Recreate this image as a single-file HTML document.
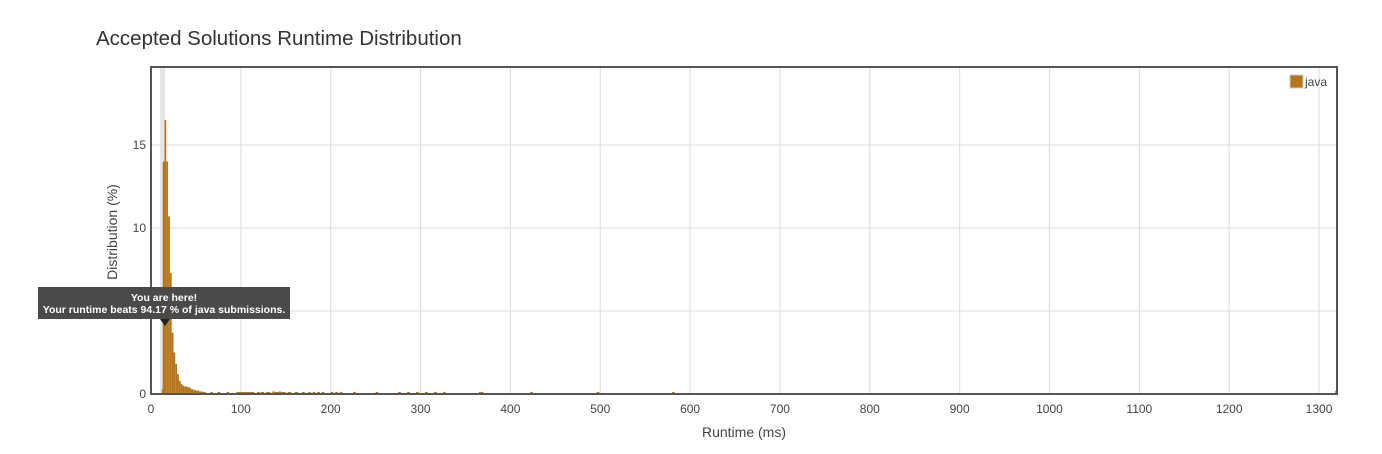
<!DOCTYPE html>
<html><head><meta charset="utf-8"><style>
body{margin:0;background:#fff;font-family:"Liberation Sans",sans-serif;}
</style></head><body>
<svg width="1382" height="449" xmlns="http://www.w3.org/2000/svg" font-family="Liberation Sans, sans-serif">
<text x="96" y="45" font-size="20.5" fill="#333">Accepted Solutions Runtime Distribution</text>
<g id="grid"></g>
<rect x="160" y="67" width="5" height="327" fill="#e6e6e6"/>
<g id="bars"></g>
<rect x="151" y="67" width="1186" height="327" fill="none" stroke="#555" stroke-width="2"/>
<g id="ticks"></g>
<text x="744" y="437" font-size="14" fill="#444" text-anchor="middle">Runtime (ms)</text>
<text x="0" y="0" font-size="14" fill="#444" text-anchor="middle" transform="translate(117,232) rotate(-90)">Distribution (%)</text>
<g>
<rect x="1290" y="75" width="13" height="13" fill="#b5761a" stroke="#ccc"/>
<text x="1305" y="86" font-size="12" fill="#444">java</text>
</g>
<g>
<rect x="38" y="287" width="252" height="32" fill="#4a4a4a"/>
<path d="M160 319 L165 326 L170 319 Z" fill="#222"/>
<text x="164" y="301" font-size="10.5" fill="#fff" font-weight="bold" text-anchor="middle">You are here!</text>
<text x="164" y="313" font-size="10.5" fill="#fff" font-weight="bold" text-anchor="middle">Your runtime beats 94.17 % of java submissions.</text>
</g>
</svg>
<script>
const xTicks=[0,100,200,300,400,500,600,700,800,900,1000,1100,1200,1300];
const yTicks=[0,5,10,15];
const binStarts=[12,13,15,17,19,21,23,25,27,29,31,33,35,37,39,41,44,47,50,54,58,66,74,84,95,100,105,110,118,122,128,135,138,142,145,152,160,168,175,180,185,190,200,205,210,225,250,275,285,295,305,315,325,365,422,496,580,1318];
const binValues=[0.3,14,16.5,14,10.7,7.3,3.7,2.5,1.8,1.2,0.8,0.6,0.5,0.45,0.45,0.4,0.3,0.25,0.2,0.15,0.12,0.1,0.1,0.1,0.12,0.12,0.12,0.12,0.1,0.1,0.1,0.15,0.12,0.15,0.1,0.1,0.08,0.08,0.08,0.08,0.08,0.08,0.08,0.08,0.08,0.08,0.08,0.1,0.08,0.08,0.08,0.08,0.08,0.12,0.08,0.08,0.08,0.2];
const binWidths=[1,2,2,2,2,2,2,2,2,2,2,2,2,2,2,3,3,3,4,4,3,3,3,3,5,5,5,5,3,4,5,3,4,3,5,4,4,3,3,3,3,3,3,3,3,3,3,3,3,3,3,3,3,5,3,3,3,2];
const NS="http://www.w3.org/2000/svg";
const X0=151,X1=1337,Y0=394,Y1=67,XMAX=1320,YMAX=19.7;
const sx=v=>X0+v/XMAX*(X1-X0), sy=v=>Y0-v/YMAX*(Y0-Y1);
const grid=document.getElementById('grid'),ticks=document.getElementById('ticks'),bars=document.getElementById('bars');
xTicks.forEach(t=>{
 const l=document.createElementNS(NS,'line');
 l.setAttribute('x1',sx(t));l.setAttribute('x2',sx(t));l.setAttribute('y1',Y1);l.setAttribute('y2',Y0);l.setAttribute('stroke','#ddd');
 
 
 grid.appendChild(l);
 const tx=document.createElementNS(NS,'text');
 tx.setAttribute('x',sx(t));tx.setAttribute('y',413);tx.setAttribute('font-size','12');tx.setAttribute('fill','#444');tx.setAttribute('text-anchor','middle');tx.textContent=t;
 
 
 ticks.appendChild(tx);
});
yTicks.forEach(t=>{
 const l=document.createElementNS(NS,'line');
 l.setAttribute('x1',X0);l.setAttribute('x2',X1);l.setAttribute('y1',sy(t));l.setAttribute('y2',sy(t));l.setAttribute('stroke','#ddd');
 
 
 grid.appendChild(l);
 const tx=document.createElementNS(NS,'text');
 tx.setAttribute('x',X0-5);tx.setAttribute('y',sy(t)+4);tx.setAttribute('font-size','12');tx.setAttribute('fill','#444');tx.setAttribute('text-anchor','end');tx.textContent=t;
 
 
 ticks.appendChild(tx);
});
binStarts.forEach((s,i)=>{
 const r=document.createElementNS(NS,'rect');
 const x=sx(s),w=Math.max(sx(s+binWidths[i])-x,1),y=sy(binValues[i]);
 r.setAttribute('x',x);r.setAttribute('width',w);r.setAttribute('y',Math.min(y,Y0-2));r.setAttribute('height',Math.max(Y0-y,2));r.setAttribute('fill','#b5761a');
 
 
 bars.appendChild(r);
});
</script>
</body></html>
